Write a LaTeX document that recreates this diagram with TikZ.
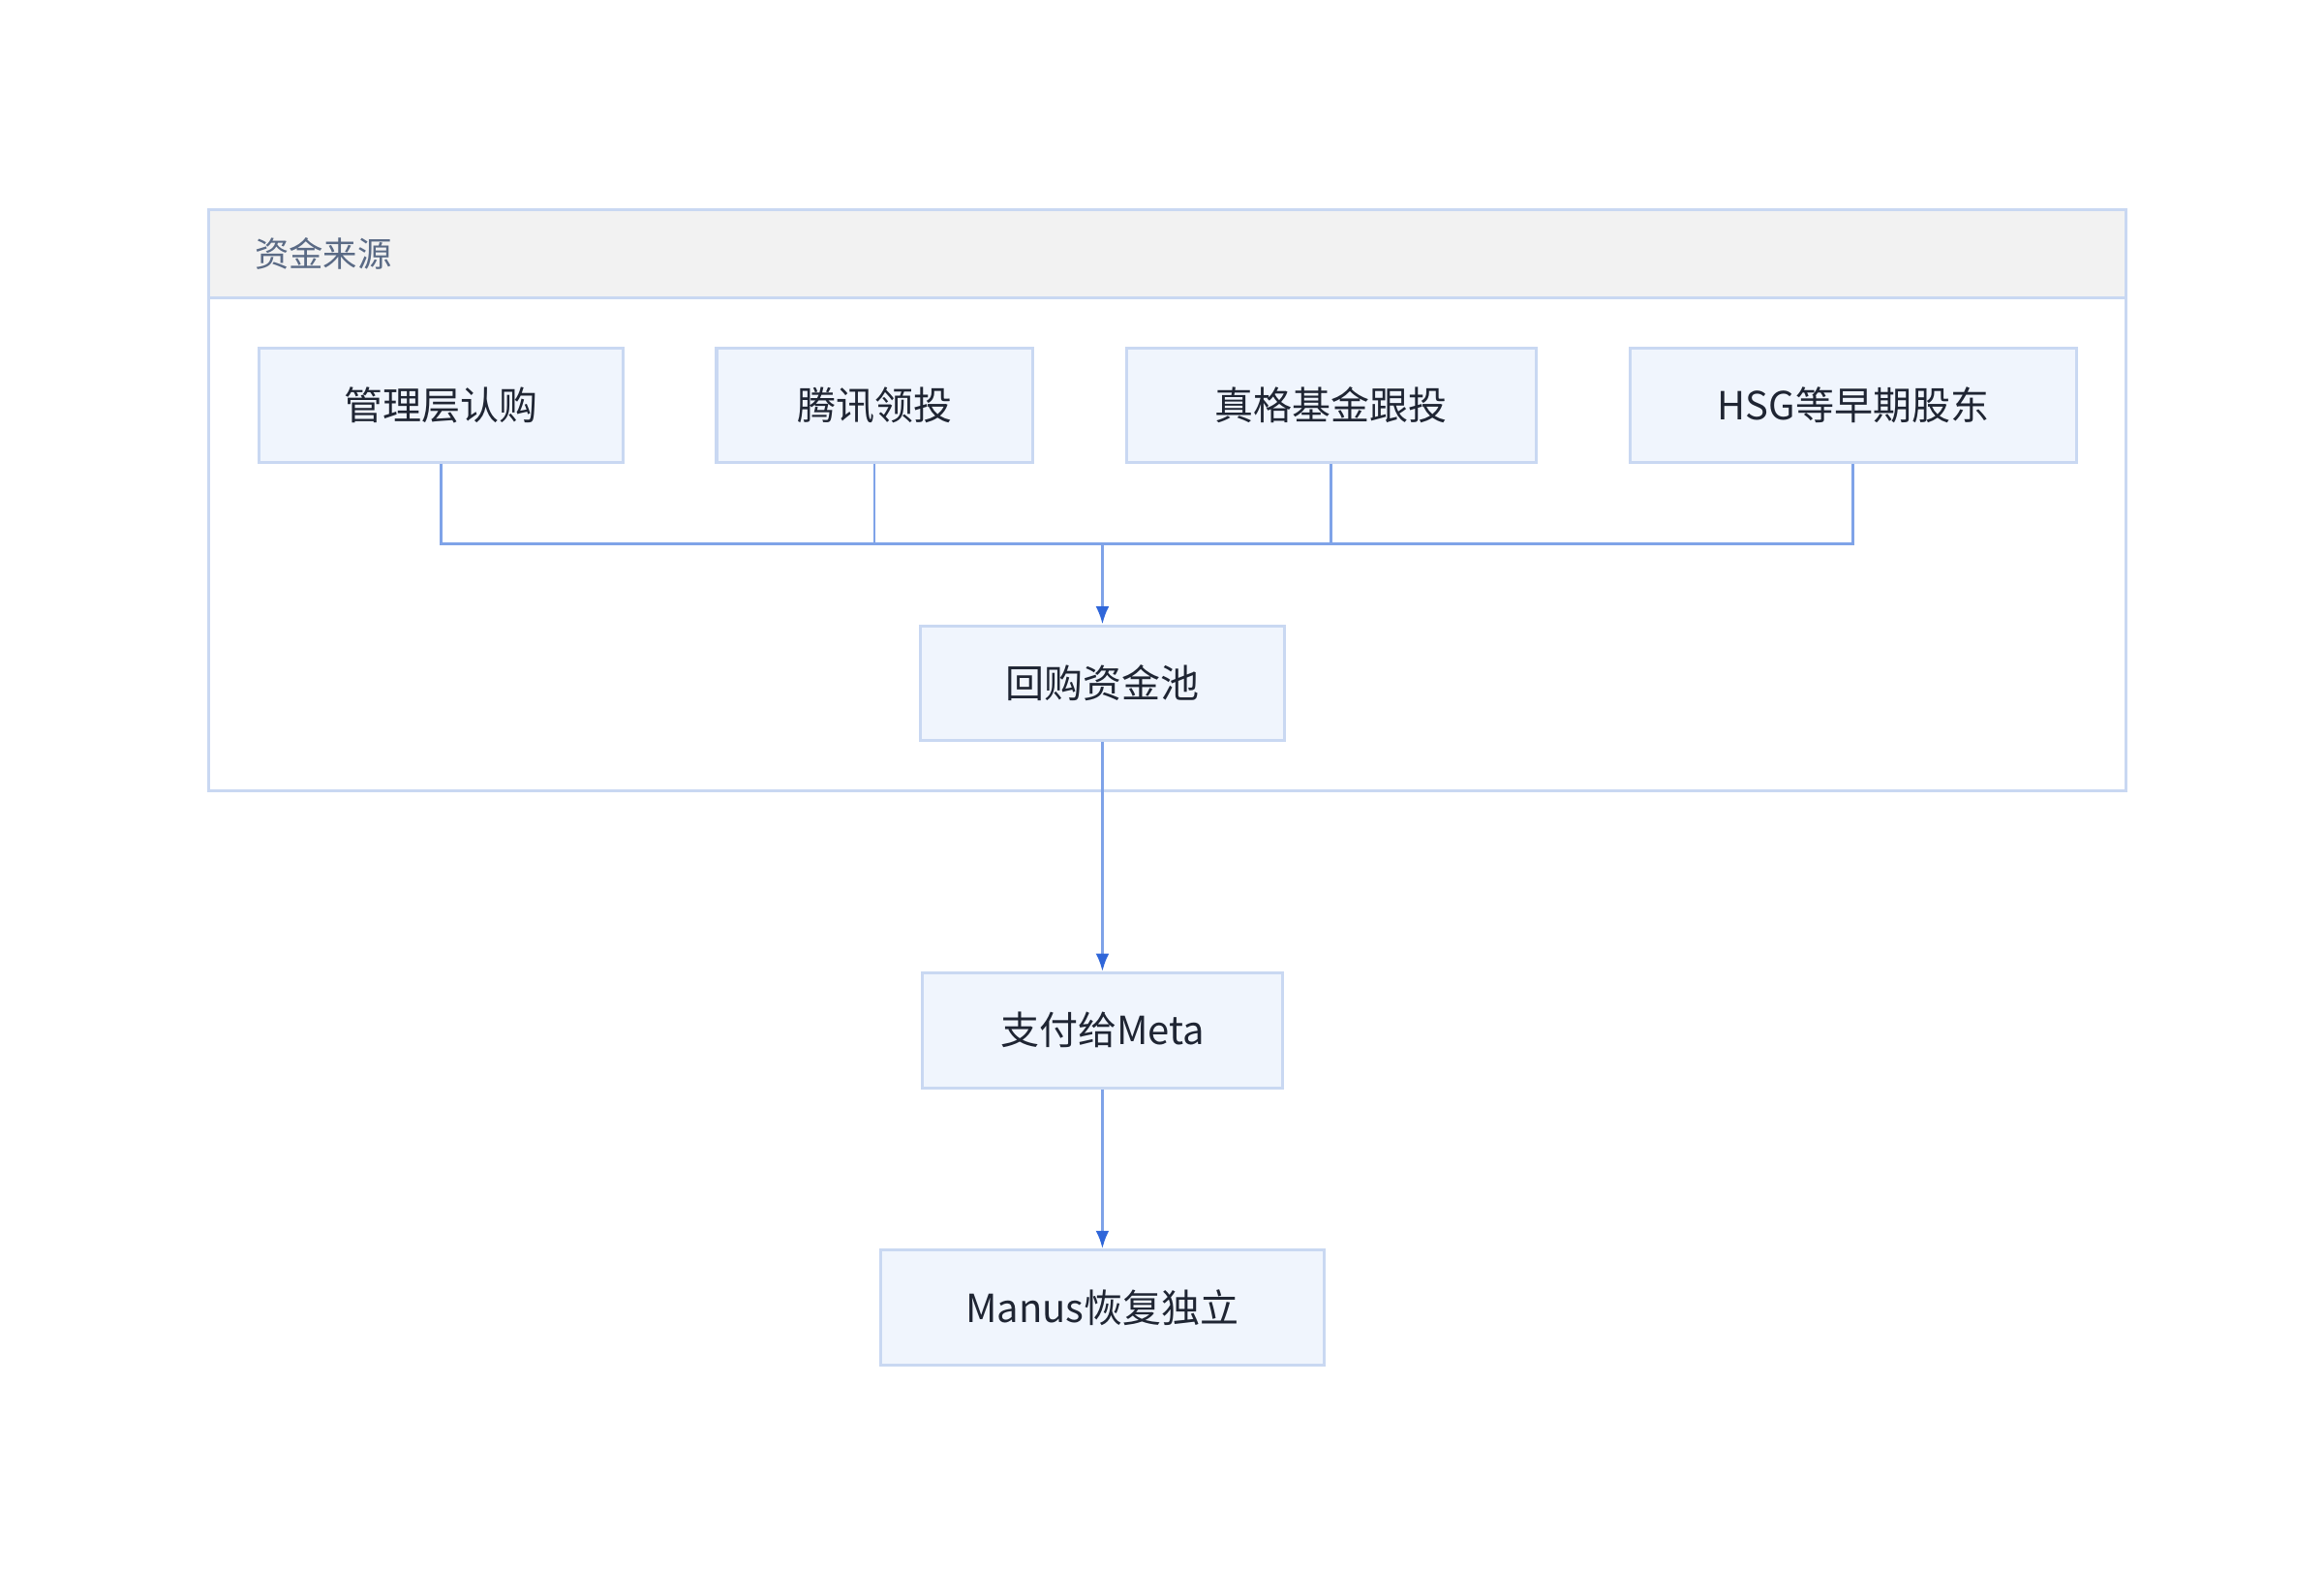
\documentclass[tikz,border=0pt]{standalone}
\usepackage{fontspec}
\setmainfont{Noto Sans CJK SC}
\usetikzlibrary{arrows.meta}
\definecolor{boxfill}{HTML}{F0F5FD}
\definecolor{boxline}{HTML}{C9D8F2}
\definecolor{headfill}{HTML}{F2F2F2}
\definecolor{linkline}{HTML}{7FA3E8}
\definecolor{tipcol}{HTML}{2F66D9}
\definecolor{titlecol}{HTML}{5A6A85}
\definecolor{textcol}{HTML}{1F2533}
\tikzset{
  box/.style={draw=boxline,fill=boxfill,line width=1pt,minimum height=38.5pt,inner sep=0pt,font=\fontsize{13}{15}\selectfont,text=textcol},
  link/.style={draw=linkline,line width=0.9pt},
  flow/.style={link,-{Latex[length=6pt,width=4.5pt,color=tipcol]}}
}
\begin{document}
\begin{tikzpicture}[x=0.5pt,y=-0.5pt]
\useasboundingbox (0,0) rectangle (1560,1053);

%Cluster
\draw [fill=headfill,draw=none] (140,141) rectangle (1427,200);
\draw [boxline,line width=1pt] (140,141) rectangle (1427,531);
\draw [boxline,line width=1pt] (140,200) -- (1427,200);
\node [anchor=west,text=titlecol,font=\fontsize{11.5}{14}\selectfont] (title) at (164,170) {资金来源};

% Source nodes
\node [box,minimum width=122pt] (mgmt) at (296,272) {管理层认购};
\node [box,minimum width=106pt] (tencent) at (587,272) {腾讯领投};
\node [box,minimum width=137.5pt] (zhen) at (893.5,272) {真格基金跟投};
\node [box,minimum width=150pt] (hsg) at (1244,272) {HSG等早期股东};

% Flow nodes
\node [box,minimum width=122pt] (pool) at (740,458.5) {回购资金池};
\node [box,minimum width=121pt] (meta) at (740,691.5) {支付给Meta};
\node [box,minimum width=149pt] (manus) at (740,877.5) {Manus恢复独立};

\coordinate (join) at (740,365);
\draw [link] (mgmt.south) |- (join);
\draw [link] (tencent.south) |- (join);
\draw [link] (zhen.south) |- (join);
\draw [link] (hsg.south) |- (join);
\draw [flow] (join) -- (pool.north);
\draw [flow] (pool) -- (meta);
\draw [flow] (meta) -- (manus);

\end{tikzpicture}
\end{document}
